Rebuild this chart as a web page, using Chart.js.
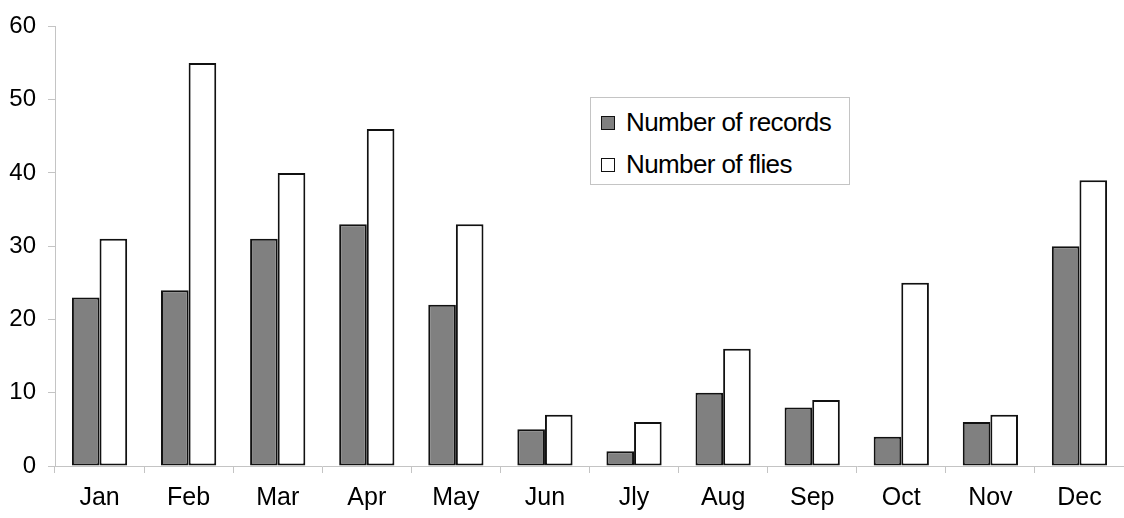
<!DOCTYPE html>
<html>
<head>
<meta charset="utf-8">
<script src="https://cdn.jsdelivr.net/npm/chart.js@4"></script>
<style>
    body { margin: 0; background: #fff; }
    #wrap { position: relative; width: 1124px; height: 518px; }
    #legend {
        position: absolute; left: 590px; top: 97px; width: 258px; height: 86px;
        border: 1px solid #c4c4c4; background: #fff;
        font-family: "Liberation Sans", Arial, sans-serif; font-size: 26px; color: #000;
    }
    .item { position: absolute; left: 10px; height: 30px; line-height: 30px; letter-spacing: -0.6px; }
    .box { display: inline-block; width: 12px; height: 12px; border: 1.5px solid #111; margin-right: 11px; vertical-align: 1px; }
</style>
</head>
<body>
<div id="wrap">
    <canvas id="myChart" width="1124" height="518"></canvas>
    <div id="legend"></div>
</div>
<script>
// Monthly data
const months = ['Jan', 'Feb', 'Mar', 'Apr', 'May', 'Jun', 'Jly', 'Aug', 'Sep', 'Oct', 'Nov', 'Dec'];
const records = [23, 24, 31, 33, 22, 5, 2, 10, 8, 4, 6, 30];
const flies = [31, 55, 40, 46, 33, 7, 6, 16, 9, 25, 7, 39];
const yTicks = [0, 10, 20, 30, 40, 50, 60];

const font = 'Liberation Sans, Arial, sans-serif';
const axisGray = '#c4c4c4';

const ctx = document.getElementById('myChart').getContext('2d');

const chart = new Chart(ctx, {
    type: 'bar',
    data: {
        labels: months,
        datasets: [
            {
                label: 'Number of records',
                data: records,
                backgroundColor: '#808080',
                borderColor: '#111',
                borderWidth: 2,
                borderSkipped: false
            },
            {
                label: 'Number of flies',
                data: flies,
                backgroundColor: '#fff',
                borderColor: '#111',
                borderWidth: 2,
                borderSkipped: false
            }
        ]
    },
    options: {
        responsive: false,
        animation: false,
        layout: { padding: { top: 22, right: 0, left: 0, bottom: 0 } },
        datasets: {
            bar: { categoryPercentage: 0.62, barPercentage: 1.0 }
        },
        scales: {
            x: {
                grid: { drawOnChartArea: false, tickLength: 7, color: axisGray, offset: true },
                border: { color: axisGray, width: 1 },
                ticks: { color: '#000', font: { family: font, size: 25 }, padding: 10, maxRotation: 0 },
                afterFit: function (scale) { scale.height = 52; }
            },
            y: {
                min: 0,
                max: 60,
                afterBuildTicks: function (scale) {
                    scale.ticks = yTicks.map(v => ({ value: v }));
                },
                grid: { drawOnChartArea: false, tickLength: 7, color: axisGray },
                border: { color: axisGray, width: 1 },
                ticks: { color: '#000', font: { family: font, size: 24 }, padding: 12 },
                afterFit: function (scale) { scale.width = 55; }
            }
        },
        plugins: {
            legend: { display: false },
            tooltip: { enabled: false }
        }
    }
});

// Build the legend box from the datasets
const legend = document.getElementById('legend');
chart.data.datasets.forEach((ds, i) => {
    const item = document.createElement('div');
    item.className = 'item';
    item.style.top = (9 + i * 42) + 'px';
    const box = document.createElement('span');
    box.className = 'box';
    box.style.background = ds.backgroundColor;
    item.appendChild(box);
    item.appendChild(document.createTextNode(ds.label));
    legend.appendChild(item);
});
</script>
</body>
</html>
